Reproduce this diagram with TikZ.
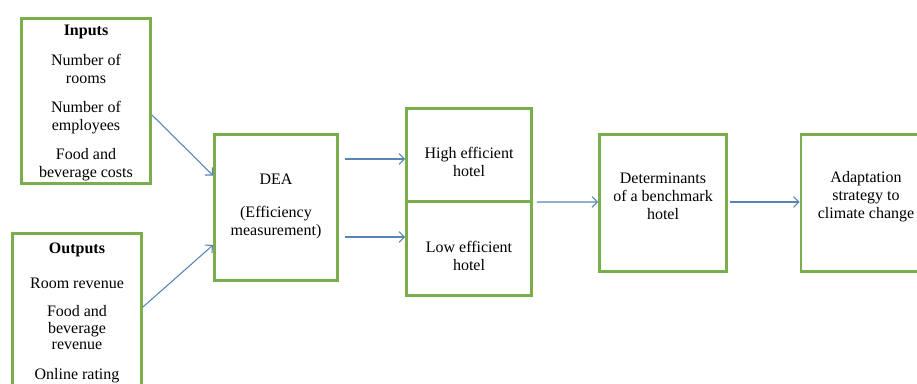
\documentclass[tikz,border=0pt]{standalone}
\usepackage{fontspec}
\setmainfont{Liberation Serif}
\usetikzlibrary{calc,arrows.meta}
\definecolor{boxgreen}{RGB}{122,174,76}
\definecolor{flowblue}{RGB}{86,132,182}
\tikzset{box/.style={draw=boxgreen, line width=2.2pt, inner sep=0pt},
    boxtext/.style={align=center, inner sep=0pt, font=\fontsize{12}{13.5}\selectfont},
    flow/.style={draw=flowblue, line width=0.8pt, -{Straight Barb[length=4pt,width=8pt]}}}

\begin{document}
\begin{tikzpicture}[x=0.75pt, y=-0.75pt]
    \useasboundingbox (0,0) rectangle (917,383);
    \clip (0,0) rectangle (917,383);
    % data boxes
    \node[box, minimum width=96.75pt, minimum height=123.75pt,
        label={[boxtext, yshift=-1.5pt]center:\textbf{Inputs}\\[9pt] Number of\\ rooms\\[8pt] Number of\\ employees\\[8pt] Food and\\ beverage costs}]
        (inputs) at (86,101) {};
    \node[box, minimum width=96.75pt, minimum height=114.75pt,
        label={[boxtext, yshift=-2.5pt]center:\textbf{Outputs}\\[12.75pt] Room revenue\\[7.5pt] Food and\\[-0.75pt] beverage\\[-1.5pt] revenue\\[9pt] Online rating}]
        (outputs) at (77,310) {};
    \node[box, minimum width=92.25pt, minimum height=109.5pt,
        label={[boxtext, yshift=1pt]center:DEA\\[11pt] (Efficiency\\ measurement)}]
        (dea) at (276,207.5) {};
    % efficiency groups
    \node[box, minimum width=93.75pt, minimum height=69.75pt,
        label={[boxtext, yshift=-5.5pt]center:High efficient\\ hotel}] (high) at (469,155) {};
    \node[box, minimum width=93.75pt, minimum height=70.5pt,
        label={[boxtext, yshift=-5.5pt]center:Low efficient\\ hotel}] (low) at (469,248.5) {};
    \node[box, minimum width=95.25pt, minimum height=102.75pt,
        label={[boxtext, yshift=5pt]center:Determinants\\ of a benchmark\\ hotel}] (det) at (663,203) {};
    \node[box, minimum width=97.5pt, minimum height=102.75pt,
        label={[boxtext, yshift=5pt]center:Adaptation\\ strategy to\\ climate change}] (adapt) at (866,203) {};
    % arrows
    \draw[flow] ($(inputs.east)+(0,14)$) -- ($(dea.west)+(0,-32)$);
    \draw[flow] ($(outputs.east)+(0,-3)$) -- ($(dea.west)+(0,37.5)$);
    \draw[flow] ($(dea.east)+(6,-48.5)$) -- ($(high.west)+(0,4)$);
    \draw[flow] ($(dea.east)+(6,29.5)$) -- ($(low.west)+(0,-11.5)$);
    \draw[flow] ($(high.south east)+(4,-1)$) -- ($(det.west)+(0,-1)$);
    \draw[flow] ($(det.east)+(2,-1)$) -- ($(adapt.west)+(0,-1)$);
\end{tikzpicture}
\end{document}
